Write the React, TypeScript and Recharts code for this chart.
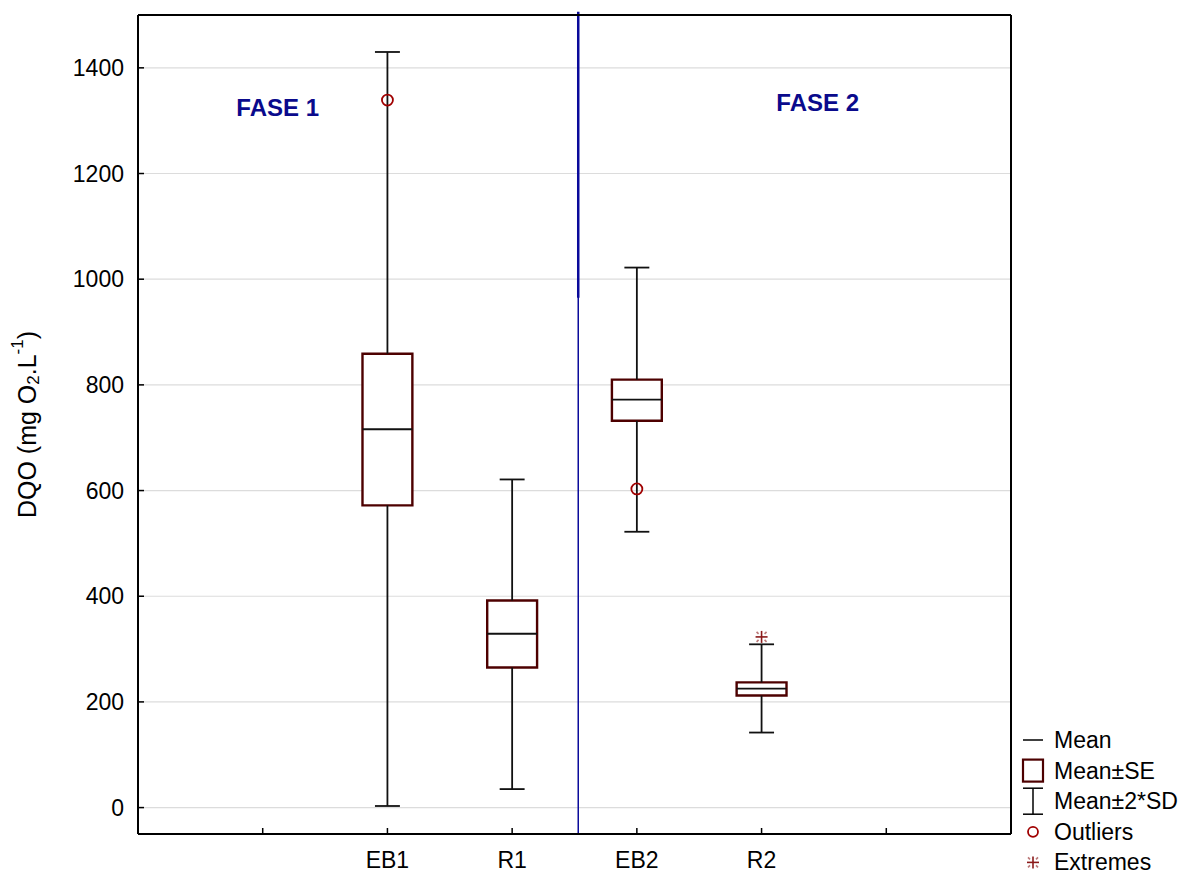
import React from 'react';
import { ComposedChart, XAxis, YAxis, CartesianGrid, ReferenceArea, ReferenceLine, Scatter } from 'recharts';

const categories = ['EB1', 'R1', 'EB2', 'R2'];
const positions = [2, 3, 4, 5];
const means = [716, 329, 772, 225];
const seLow = [572, 265, 732, 212];
const seHigh = [859, 392, 810, 237];
const sdLow = [3, 35, 522, 142];
const sdHigh = [1430, 621, 1022, 309];
const outliers = [{ x: 2, y: 1339 }, { x: 4, y: 603 }];
const extremes = [{ x: 5, y: 323 }];
const phaseLabels = [
  { x: 1.12, y: 1324, text: 'FASE 1' },
  { x: 5.45, y: 1334, text: 'FASE 2' },
];
const phaseDivider = 3.53;
const yTicks = [0, 200, 400, 600, 800, 1000, 1200, 1400];
const xTicks = [1, 2, 3, 4, 5, 6];
const legendItems = ['Mean', 'Mean±SE', 'Mean±2*SD', 'Outliers', 'Extremes'];

const FONT = 'Arial, "Liberation Sans", sans-serif';
const BOX = '#4d0000';
const RED = '#a00000';
const BLUE = '#0a0a9a';
const HALF_BOX = 0.2;
const HALF_CAP = 0.1;

const Star = ({ cx, cy }: { cx: number; cy: number }) => (
  <g stroke="#8b1a1a" strokeWidth={1.6}>
    <line x1={cx} y1={cy - 6} x2={cx} y2={cy + 6} />
    <line x1={cx - 6} y1={cy} x2={cx + 6} y2={cy} />
    <line x1={cx - 5} y1={cy - 5} x2={cx - 3} y2={cy - 3} strokeOpacity={0.6} />
    <line x1={cx + 5} y1={cy - 5} x2={cx + 3} y2={cy - 3} strokeOpacity={0.6} />
    <line x1={cx - 5} y1={cy + 5} x2={cx - 3} y2={cy + 3} strokeOpacity={0.6} />
    <line x1={cx + 5} y1={cy + 5} x2={cx + 3} y2={cy + 3} strokeOpacity={0.6} />
  </g>
);

const YLabel = (props: any) => {
  const vb = props.viewBox || { x: 0, y: 0, width: 0, height: 0 };
  const cx = vb.x + 29;
  const cy = vb.y + vb.height / 2;
  return (
    <text x={cx} y={cy} transform={`rotate(-90, ${cx}, ${cy})`} textAnchor="middle" dominantBaseline="middle"
      fontFamily={FONT} fontSize={25} fill="#000">
      DQO (mg O<tspan dy={6} fontSize={17}>2</tspan>
      <tspan dy={-6}>.L</tspan>
      <tspan dy={-10} fontSize={17}>-1</tspan>
      <tspan dy={10}>)</tspan>
    </text>
  );
};

const ChartLegend = () => (
  <svg width={170} height={152} style={{ position: 'absolute', left: 1015, top: 722 }}>
    {legendItems.map((name, i) => {
      const cy = 18 + i * 30.6;
      let icon: React.ReactNode = null;
      if (i === 0) icon = <line x1={8} x2={28} y1={cy} y2={cy} stroke="#000" strokeWidth={1.5} />;
      if (i === 1) icon = <rect x={8} y={cy - 11} width={20} height={22} fill="none" stroke={BOX} strokeWidth={2.2} />;
      if (i === 2)
        icon = (
          <g stroke="#000" strokeWidth={1.5}>
            <line x1={18} x2={18} y1={cy - 13} y2={cy + 13} />
            <line x1={8} x2={28} y1={cy - 13} y2={cy - 13} />
            <line x1={8} x2={28} y1={cy + 13} y2={cy + 13} />
          </g>
        );
      if (i === 3) icon = <circle cx={18} cy={cy} r={5} fill="none" stroke={RED} strokeWidth={1.8} />;
      if (i === 4) icon = <Star cx={18} cy={cy} />;
      return (
        <g key={name}>
          {icon}
          <text x={39} y={cy} dominantBaseline="central" fontFamily={FONT} fontSize={23} fill="#000">{name}</text>
        </g>
      );
    })}
  </svg>
);

export default function App() {
  const axisLine = { stroke: '#000', strokeWidth: 2 };
  const tickLine = { stroke: '#000', strokeWidth: 1.5 };
  const tickStyle = { fontFamily: FONT, fontSize: 23, fill: '#000' };

  return (
    <div style={{ position: 'absolute', left: 0, top: 0, width: 1187, height: 874, background: '#fff' }}>
      <ComposedChart width={1187} height={874} margin={{ top: 0, right: 0, bottom: 0, left: 0 }}>
        <CartesianGrid vertical={false} stroke="#dcdcdc" strokeWidth={1.2} />
        <XAxis type="number" dataKey="x" domain={[0, 7]} ticks={xTicks} height={40} tickSize={-6} tickMargin={24}
          tickFormatter={(v: number) => categories[positions.indexOf(v)] ?? ''}
          tick={tickStyle} axisLine={axisLine} tickLine={tickLine} allowDataOverflow />
        <XAxis xAxisId="top" orientation="top" type="number" domain={[0, 7]} ticks={xTicks} height={15}
          tickSize={-6} tick={false} axisLine={axisLine} tickLine={tickLine} />
        <YAxis type="number" dataKey="y" domain={[-50, 1500]} ticks={yTicks} width={138} tickSize={-6} tickMargin={20}
          tick={tickStyle} axisLine={axisLine} tickLine={tickLine} allowDataOverflow label={{ content: YLabel }} />
        <YAxis yAxisId="right" orientation="right" type="number" domain={[-50, 1500]} ticks={yTicks} width={176}
          tickSize={-6} tick={false} axisLine={axisLine} tickLine={tickLine} />

        <ReferenceLine x={phaseDivider} stroke={BLUE} strokeWidth={1.5} />
        <ReferenceLine segment={[{ x: phaseDivider, y: 1506 }, { x: phaseDivider, y: 965 }]} stroke={BLUE} strokeWidth={2.5} ifOverflow="visible" />

        {positions.map((p, i) => (
          <ReferenceLine key={`wl${i}`} segment={[{ x: p, y: sdLow[i] }, { x: p, y: seLow[i] }]} stroke="#111" strokeWidth={1.8} />
        ))}
        {positions.map((p, i) => (
          <ReferenceLine key={`wh${i}`} segment={[{ x: p, y: seHigh[i] }, { x: p, y: sdHigh[i] }]} stroke="#111" strokeWidth={1.8} />
        ))}
        {positions.map((p, i) => (
          <ReferenceLine key={`cl${i}`} segment={[{ x: p - HALF_CAP, y: sdLow[i] }, { x: p + HALF_CAP, y: sdLow[i] }]} stroke="#111" strokeWidth={1.8} />
        ))}
        {positions.map((p, i) => (
          <ReferenceLine key={`ch${i}`} segment={[{ x: p - HALF_CAP, y: sdHigh[i] }, { x: p + HALF_CAP, y: sdHigh[i] }]} stroke="#111" strokeWidth={1.8} />
        ))}
        {positions.map((p, i) => (
          <ReferenceArea key={`box${i}`} x1={p - HALF_BOX} x2={p + HALF_BOX} y1={seLow[i]} y2={seHigh[i]}
            fill="#fff" fillOpacity={1} stroke={BOX} strokeWidth={2.4} />
        ))}
        {positions.map((p, i) => (
          <ReferenceLine key={`m${i}`} segment={[{ x: p - HALF_BOX, y: means[i] }, { x: p + HALF_BOX, y: means[i] }]} stroke="#111" strokeWidth={1.8} />
        ))}

        <Scatter data={outliers} isAnimationActive={false}
          shape={(pr: any) => <circle cx={pr.cx} cy={pr.cy} r={5.5} fill="none" stroke={RED} strokeWidth={1.8} />} />
        <Scatter data={extremes} isAnimationActive={false} shape={(pr: any) => <Star cx={pr.cx} cy={pr.cy} />} />
        <Scatter data={phaseLabels} isAnimationActive={false}
          shape={(pr: any) => (
            <text x={pr.cx} y={pr.cy} textAnchor="middle" dominantBaseline="central" fontFamily={FONT}
              fontSize={24} fontWeight="bold" fill="#0a0a8c">{pr.payload.text}</text>
          )} />
      </ComposedChart>
      <ChartLegend />
    </div>
  );
}
